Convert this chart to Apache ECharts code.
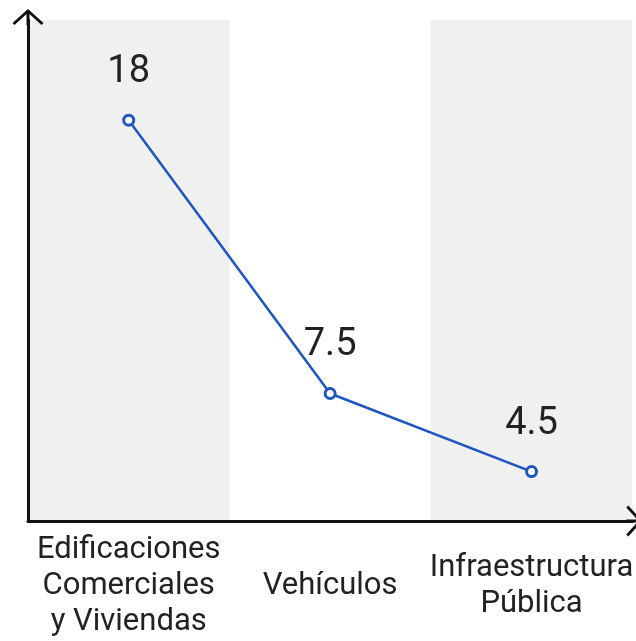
<!DOCTYPE html>
<html>
<head>
<meta charset="utf-8">
<script src="https://cdn.jsdelivr.net/npm/echarts@6/dist/echarts.min.js"></script>
<style>
html,body{margin:0;padding:0;background:#fff;}
#chart{width:636px;height:641px;}
</style>
</head>
<body>
<div id="chart"></div>
<script>
const categories = ['Edificaciones\nComerciales\ny Viviendas', 'Vehículos', 'Infraestructura\nPública'];
const values = [18, 7.5, 4.5];
const labelTexts = ['18', '7.5', '4.5'];

const arrowPath = 'path://M15.5,0 L31,14 L29,16 L15.5,3.8 L2,16 L0,14 Z M14,1 L17,1 L17,16 L14,16 Z';

const chart = echarts.init(document.getElementById('chart'), null, {renderer: 'canvas'});
chart.setOption({
  animation: false,
  backgroundColor: '#ffffff',
  grid: {left: 28, right: 2, top: 20, bottom: 120, containLabel: false},
  xAxis: {
    type: 'category',
    data: categories,
    boundaryGap: true,
    axisLine: {
      show: true,
      lineStyle: {color: '#111', width: 3},
      symbol: ['none', arrowPath],
      symbolSize: [31, 16],
      symbolOffset: [0, 2]
    },
    axisTick: {show: false},
    axisLabel: {
      show: true,
      interval: 0,
      color: '#222',
      fontFamily: 'Roboto',
      fontSize: 31,
      lineHeight: 36,
      margin: 65,
      verticalAlign: 'middle',
      align: 'center'
    },
    splitLine: {show: false},
    splitArea: {show: true, interval: 0, areaStyle: {color: ['#f0f0f0', 'rgba(255,255,255,0)']}}
  },
  yAxis: {
    type: 'value',
    min: 2.6,
    max: 21.85,
    axisLine: {
      show: true,
      lineStyle: {color: '#111', width: 3},
      symbol: ['none', arrowPath],
      symbolSize: [31, 16],
      symbolOffset: [0, 3]
    },
    axisTick: {show: false},
    axisLabel: {show: false},
    splitLine: {show: false}
  },
  series: [{
    type: 'line',
    data: values,
    symbol: 'circle',
    symbolSize: 10,
    lineStyle: {color: '#1f55c2', width: 2.5},
    itemStyle: {color: '#ffffff', borderColor: '#1f55c2', borderWidth: 3},
    label: {
      show: true,
      position: 'top',
      distance: 22,
      formatter: function (p) { return labelTexts[p.dataIndex]; },
      color: '#222',
      fontFamily: 'Roboto',
      fontSize: 38
    },
    z: 5
  }]
});
</script>
</body>
</html>
